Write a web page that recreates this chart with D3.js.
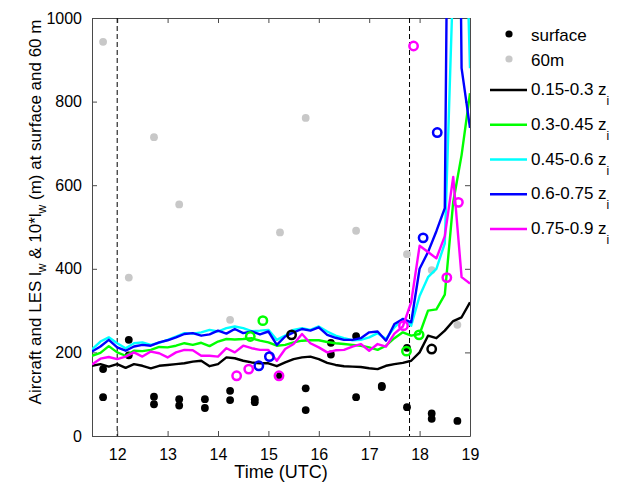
<!DOCTYPE html>
<html>
<head>
<meta charset="utf-8">
<script src="https://cdn.jsdelivr.net/npm/d3@7"></script>
<style>
  body { margin: 0; background: #fff; }
  text { font-family: "Liberation Sans", Arial, Helvetica, sans-serif; fill: #000; }
</style>
</head>
<body>
<svg id="chart" width="618" height="486"></svg>
<script>
// ---- LES time axis (UTC hours, 10-minute output) ----
const lesTime = [11.5, 11.667, 11.833, 12, 12.167, 12.333, 12.5, 12.667, 12.833, 13,
  13.167, 13.333, 13.5, 13.667, 13.833, 14, 14.167, 14.333, 14.5, 14.667,
  14.833, 15, 15.167, 15.333, 15.5, 15.667, 15.833, 16, 16.167, 16.333,
  16.5, 16.667, 16.833, 17, 17.167, 17.333, 17.5, 17.667, 17.833, 18,
  18.167, 18.333, 18.5, 18.667, 18.833, 19];

// ---- LES length scale (m) for each layer ----
const les015 = [168, 172, 166, 172, 163, 172, 168, 162, 168, 170,
  172, 174, 178, 180, 167, 172, 188, 186, 180, 176,
  174, 174, 167, 176, 184, 188, 190, 184, 175, 170,
  167, 166, 165, 162, 160, 168, 172, 175, 180, 200,
  240, 234, 252, 275, 284, 320];
const les030 = [192, 199, 215, 200, 192, 204, 203, 206, 213, 212,
  216, 222, 218, 223, 215, 226, 232, 231, 232, 234,
  228, 224, 216, 218, 224, 228, 229, 229, 225, 222,
  220, 218, 216, 212, 206, 216, 234, 248, 240, 244,
  300, 303, 338, 560, 672, 820];
const les045 = [207, 226, 236, 222, 210, 222, 224, 218, 223, 230,
  238, 246, 245, 248, 254, 250, 258, 262, 258, 251,
  252, 254, 230, 240, 254, 258, 254, 262, 250, 240,
  234, 229, 230, 236, 246, 232, 260, 280, 264, 335,
  380, 400, 461, 1100, 1600, 880];
const les060 = [202, 214, 230, 212, 204, 214, 218, 216, 224, 229,
  236, 244, 246, 240, 243, 252, 245, 256, 246, 250,
  243, 250, 218, 238, 248, 256, 252, 260, 242, 235,
  230, 230, 234, 248, 250, 228, 268, 280, 272, 400,
  440, 490, 545, 2800, 880, 737];
const les075 = [171, 185, 189, 184, 190, 200, 190, 202, 198, 188,
  200, 206, 205, 192, 192, 190, 210, 200, 216, 210,
  206, 206, 180, 208, 220, 244, 222, 212, 200, 205,
  206, 214, 220, 204, 220, 214, 245, 262, 320, 455,
  440, 425, 478, 620, 380, 365];

// ---- Aircraft samples: surface (black) and 60 m (grey) ----
const surfaceTime = [11.72, 11.72, 12.23, 12.23, 12.73, 12.73, 13.23, 13.23, 13.74, 13.74,
  14.24, 14.24, 14.73, 14.73, 15.23, 15.74, 15.74, 16.24, 16.24, 16.74,
  16.74, 17.25, 17.25, 17.75, 17.75, 18.24, 18.24, 18.75];
const surfaceValue = [160, 93, 230, 193, 94, 76, 88, 73, 88, 67,
  108, 86, 88, 81, 144, 114, 62, 223, 195, 239,
  93, 120, 117, 211, 69, 54, 41, 36];
const m60Time = [11.72, 12.23, 12.73, 13.23, 14.24, 15.23, 15.74, 16.74, 17.75, 18.24, 18.75];
const m60Value = [943, 379, 715, 554, 278, 487, 761, 491, 435, 397, 266];

// ---- Aircraft 10*l_w at the LES layers (open circles) ----
const acTime015 = [15.46, 18.24];
const acValue015 = [242, 208];
const acTime030 = [14.64, 14.89, 17.74, 17.99];
const acValue030 = [238, 276, 203, 242];
const acTime060 = [14.81, 15.02, 18.07, 18.35];
const acValue060 = [168, 190, 474, 726];
const acTime075 = [14.37, 14.61, 15.21, 17.68, 17.88, 18.54, 18.77];
const acValue075 = [144, 160, 144, 264, 933, 379, 559];

// ---- Axis ticks and markers ----
const xTicks = [12, 13, 14, 15, 16, 17, 18, 19];
const yTicks = [0, 200, 400, 600, 800, 1000];
const transitionTimes = [12, 17.8];

const layerNames = ["0.15-0.3 z", "0.3-0.45 z", "0.45-0.6 z", "0.6-0.75 z", "0.75-0.9 z"];
const layerColors = ["#000000", "#00ff00", "#00ffff", "#0000ff", "#ff00ff"];
const layerSeries = [les015, les030, les045, les060, les075];

const svg = d3.select("#chart");
const plot = { left: 92, right: 470, top: 18, bottom: 436 };

const x = d3.scaleLinear().domain([11.5, 19]).range([plot.left, plot.right]);
const y = d3.scaleLinear().domain([0, 1000]).range([plot.bottom, plot.top]);

svg.append("defs").append("clipPath").attr("id", "plotClip")
  .append("rect")
  .attr("x", plot.left).attr("y", plot.top)
  .attr("width", plot.right - plot.left).attr("height", plot.bottom - plot.top);

const axisColor = "#4a4a4a";

// Axes: ticks point inward, box on all four sides
function styleAxis(g, showLabels) {
  g.select(".domain").attr("stroke", axisColor).attr("stroke-width", 1);
  g.selectAll(".tick line").attr("stroke", axisColor);
  g.selectAll(".tick text").attr("font-size", 16).attr("fill", "#000")
    .style("font-family", "'Liberation Sans', Arial, sans-serif");
  if (!showLabels) g.selectAll(".tick text").remove();
}

svg.append("g").attr("transform", `translate(0,${plot.bottom})`)
  .call(d3.axisBottom(x).tickValues(xTicks).tickFormat(d3.format("d"))
    .tickSizeInner(-5).tickSizeOuter(0).tickPadding(13))
  .call(g => styleAxis(g, true));
svg.append("g").attr("transform", `translate(0,${plot.top})`)
  .call(d3.axisTop(x).tickValues(xTicks).tickSizeInner(-5).tickSizeOuter(0))
  .call(g => styleAxis(g, false));
svg.append("g").attr("transform", `translate(${plot.left},0)`)
  .call(d3.axisLeft(y).tickValues(yTicks).tickFormat(d3.format("d"))
    .tickSizeInner(-5).tickSizeOuter(0).tickPadding(10))
  .call(g => styleAxis(g, true));
svg.append("g").attr("transform", `translate(${plot.right},0)`)
  .call(d3.axisRight(y).tickValues(yTicks).tickSizeInner(-5).tickSizeOuter(0))
  .call(g => styleAxis(g, false));

// Dashed markers for the start and end of the period
svg.append("g").selectAll("line").data(transitionTimes).join("line")
  .attr("x1", d => x(d)).attr("x2", d => x(d))
  .attr("y1", plot.top).attr("y2", plot.bottom)
  .attr("stroke", "#000").attr("stroke-width", 1)
  .attr("stroke-dasharray", "5,3");

const marks = svg.append("g").attr("clip-path", "url(#plotClip)");

// Aircraft dots: 60 m first, then surface
marks.append("g").selectAll("circle").data(m60Time.map((t, i) => [t, m60Value[i]])).join("circle")
  .attr("cx", d => x(d[0])).attr("cy", d => y(d[1])).attr("r", 3.9)
  .attr("fill", "#c8c8c8");
marks.append("g").selectAll("circle").data(surfaceTime.map((t, i) => [t, surfaceValue[i]])).join("circle")
  .attr("cx", d => x(d[0])).attr("cy", d => y(d[1])).attr("r", 3.9)
  .attr("fill", "#000");

// LES lines
const line = d3.line().x((d, i) => x(lesTime[i])).y(d => y(d));
marks.append("g").selectAll("path").data(layerSeries).join("path")
  .attr("d", d => line(d))
  .attr("fill", "none")
  .attr("stroke", (d, i) => layerColors[i])
  .attr("stroke-width", 2.4)
  .attr("stroke-linejoin", "round");

// Aircraft open circles per layer
const openSets = [
  { t: acTime015, v: acValue015, c: layerColors[0] },
  { t: acTime030, v: acValue030, c: layerColors[1] },
  { t: acTime060, v: acValue060, c: layerColors[3] },
  { t: acTime075, v: acValue075, c: layerColors[4] }
];
openSets.forEach(s => {
  marks.append("g").selectAll("circle").data(s.t.map((t, i) => [t, s.v[i]])).join("circle")
    .attr("cx", d => x(d[0])).attr("cy", d => y(d[1])).attr("r", 4.2)
    .attr("fill", "none").attr("stroke", s.c).attr("stroke-width", 2.5);
});

// Axis titles
svg.append("text")
  .attr("x", (plot.left + plot.right) / 2).attr("y", 478)
  .attr("text-anchor", "middle").attr("font-size", 18)
  .text("Time (UTC)");

const yTitle = svg.append("text")
  .attr("transform", "translate(41,212) rotate(-90)")
  .attr("text-anchor", "middle").attr("font-size", 17);
yTitle.append("tspan").text("Aircraft and LES l");
yTitle.append("tspan").attr("dy", 5).attr("font-size", 12).text("w");
yTitle.append("tspan").attr("dy", -5).text(" & 10*l");
yTitle.append("tspan").attr("dy", 5).attr("font-size", 12).text("w");
yTitle.append("tspan").attr("dy", -5).text(" (m) at surface and 60 m");

// Legend
const legend = svg.append("g");
const dotRows = [
  { label: "surface", color: "#000", y: 34 },
  { label: "60m", color: "#c8c8c8", y: 59 }
];
dotRows.forEach(r => {
  legend.append("circle").attr("cx", 509).attr("cy", r.y).attr("r", 3.6).attr("fill", r.color);
  legend.append("text").attr("x", 531).attr("y", r.y + 7).attr("font-size", 17).text(r.label);
});
const legendY = d3.scaleLinear().domain([0, 4]).range([90, 229]);
layerNames.forEach((name, i) => {
  const yy = legendY(i);
  legend.append("line").attr("x1", 490).attr("x2", 527).attr("y1", yy).attr("y2", yy)
    .attr("stroke", layerColors[i]).attr("stroke-width", 2.4);
  const t = legend.append("text").attr("x", 531).attr("y", yy + 5).attr("font-size", 17);
  t.append("tspan").text(name);
  t.append("tspan").attr("dy", 10).attr("font-size", 12).text("i");
});
</script>
</body>
</html>
